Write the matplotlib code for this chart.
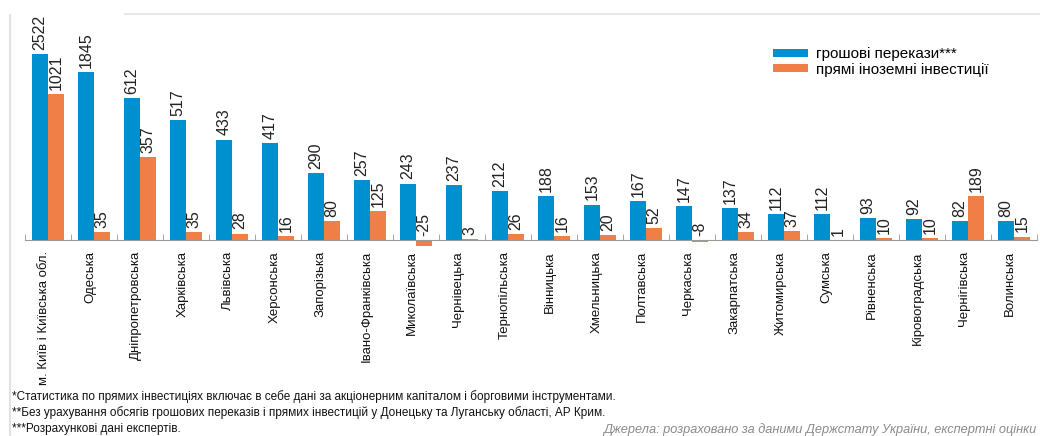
import numpy as np
import matplotlib
matplotlib.use("Agg")
import matplotlib.pyplot as plt
from matplotlib.lines import Line2D

plt.rcParams['font.family'] = ['Liberation Sans', 'DejaVu Sans']

regions = ["м. Київ і Київська обл.", "Одеська", "Дніпропетровська", "Харківська",
           "Львівська", "Херсонська", "Запорізька", "Івано-Франківська",
           "Миколаївська", "Чернівецька", "Тернопільська", "Вінницька",
           "Хмельницька", "Полтавська", "Черкаська", "Закарпатська",
           "Житомирська", "Сумська", "Рівненська", "Кіровоградська",
           "Чернігівська", "Волинська"]
remittances = [2522, 1845, 612, 517, 433, 417, 290, 257, 243, 237, 212, 188,
               153, 167, 147, 137, 112, 112, 93, 92, 82, 80]
fdi = [1021, 35, 357, 35, 28, 16, 80, 125, -25, 3, 26, 16, 20, 52, -8, 34,
       37, 1, 10, 10, 189, 15]
series_names = ["грошові перекази***", "прямі іноземні інвестиції"]
footnotes = ["*Статистика по прямих інвестиціях включає в себе дані за акціонерним капіталом і борговими інструментами.",
             "**Без урахування обсягів грошових переказів і прямих інвестицій у Донецьку та Луганську області, АР Крим.",
             "***Розрахункові дані експертів."]
source = "Джерела: розраховано за даними Держстату України, експертні оцінки"

blue = "#0090d0"
orange = "#f07f47"

# broken-looking scale: linear up to 612, compressed above
xp = [-1000, 612, 1021, 10000]
fp = [-1000, 612, 630, 630 + (10000 - 1021) * 0.115]
fwd = lambda v: np.interp(v, xp, fp)
inv = lambda v: np.interp(v, fp, xp)

fig = plt.figure(figsize=(10.4, 4.36), dpi=100)
ax = fig.add_axes([25 / 1040, (436 - 250) / 436, 1012 / 1040, 236 / 436])
ax.set_yscale('function', functions=(fwd, inv))

x = np.arange(len(regions))
w = 0.33
b1 = ax.bar(x - 0.175, remittances, w, color=blue, label=series_names[0])
b2 = ax.bar(x + 0.175, fdi, w, color=orange, label=series_names[1])

for bars, vals in ((b1, remittances), (b2, fdi)):
    for r, v in zip(bars, vals):
        ax.annotate(str(v), (r.get_x() + r.get_width() / 2, max(v, 0)),
                    xytext=(0, 3), textcoords="offset points",
                    rotation=90, ha="center", va="bottom", fontsize=11.5,
                    color="#222222")

ax.set_xlim(-0.5, len(regions) - 0.5)
ax.set_ylim(-43, inv(974))
for s in ("left", "right", "top"):
    ax.spines[s].set_visible(False)
ax.spines["bottom"].set_position(("data", 0))
ax.spines["bottom"].set_color("#999999")
ax.set_yticks([])
ax.set_xticks(x - 0.08)
ax.set_xticklabels(regions, rotation=90, fontsize=9.5, color="#111111")
ax.tick_params(axis="x", which="major", length=0, pad=8)
ax.set_xticks(np.arange(len(regions) + 1) - 0.5, minor=True)
ax.tick_params(axis="x", which="minor", direction="in", length=4, color="#999999")

leg = ax.legend(loc="upper left", bbox_to_anchor=(742 / 1012, (250 - 41) / 236),
                frameon=False, fontsize=11, handlelength=2.3, handleheight=0.45,
                handletextpad=0.5, labelspacing=0.1, borderaxespad=0)

# frame decoration
fig.add_artist(Line2D([10 / 1040, 10 / 1040], [0, (436 - 15) / 436],
                      color="#e2e2e2", lw=1.5))
fig.add_artist(Line2D([125 / 1040, 1], [(436 - 14) / 436] * 2,
                      color="#e8e8e8", lw=1.5))

for i, t in enumerate(footnotes):
    fig.text(12 / 1040, (436 - 397 - 16 * i) / 436, t, fontsize=8.5,
             va="center", ha="left", color="#111111")
fig.text(603 / 1040, (436 - 430) / 436, source, fontsize=9.2, style="italic",
         color="#8a8a8a", va="center", ha="left")

fig.savefig("out.png", dpi=100)
